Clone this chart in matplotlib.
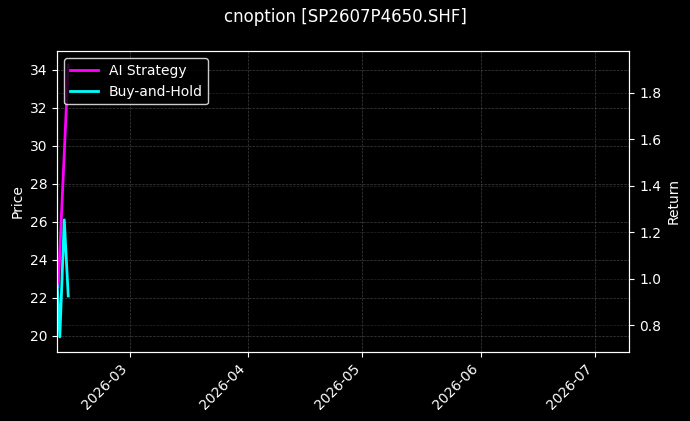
import numpy as np
import pandas as pd
import matplotlib
matplotlib.use("Agg")
import matplotlib.pyplot as plt
import matplotlib.dates as mdates

#
# cnoption chart: AI strategy vs buy-and-hold returns
#

title = "cnoption [SP2607P4650.SHF]"

ai_dates = pd.to_datetime(["2026-02-10 06:00", "2026-02-12 21:00"])
ai_return = [0.966, 1.919]

bh_dates = pd.to_datetime(["2026-02-10 00:00", "2026-02-10 16:00",
                           "2026-02-11 20:00", "2026-02-12 21:00"])
bh_return = [0.97, 0.751, 1.254, 0.927]

x_range = pd.to_datetime(["2026-02-10", "2026-07-10"])
price_range = [19.18, 34.98]
return_range = [0.688, 1.978]

plt.style.use("dark_background")
fig = plt.figure(figsize=(6.9, 4.21), dpi=100)
fig.patch.set_facecolor("black")
ax1 = fig.add_subplot(1, 1, 1)
fig.subplots_adjust(left=0.083, right=0.912, bottom=0.165, top=0.878)
ax2 = ax1.twinx()

ax2.plot(ai_dates, ai_return, color="#ff00ff", linewidth=2, label="AI Strategy")
ax2.plot(bh_dates, bh_return, color="#00ffff", linewidth=2, label="Buy-and-Hold")

ax1.set_xlim(x_range[0], x_range[1])
ax1.set_ylim(price_range)
ax2.set_ylim(return_range)
ax1.set_yticks(np.arange(20, 35, 2))

ax1.set_ylabel("Price")
ax2.set_ylabel("Return")
fig.suptitle(title, fontsize=12)

ax1.xaxis.set_major_locator(mdates.MonthLocator())
ax1.xaxis.set_major_formatter(mdates.DateFormatter("%Y-%m"))
for lbl in ax1.get_xticklabels():
    lbl.set_rotation(45)
    lbl.set_ha("right")

ax1.grid(True, color="gray", linestyle="--", linewidth=0.5, alpha=0.5)
ax2.grid(True, color="gray", linestyle="--", linewidth=0.5, alpha=0.3)

leg = ax2.legend(loc="upper left", facecolor="black", edgecolor="white", framealpha=0.8)

fig.savefig("out.png", dpi=100, facecolor="black")
